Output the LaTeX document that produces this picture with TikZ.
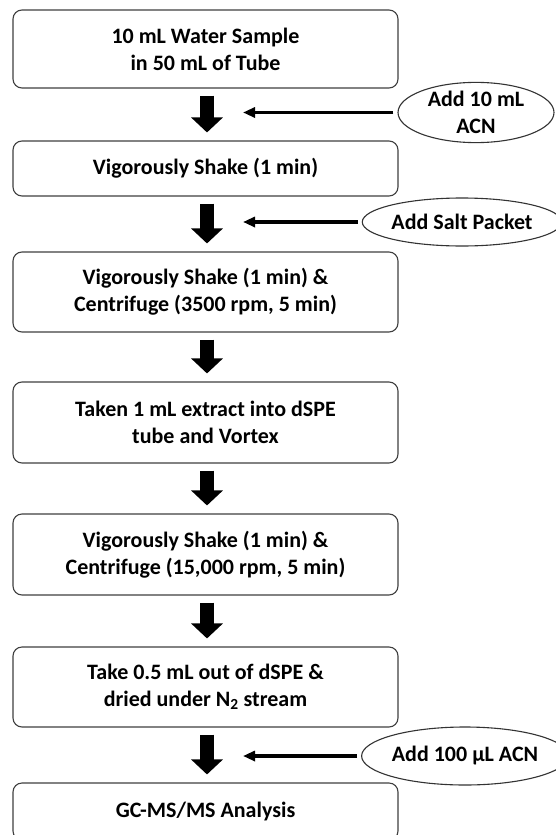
\documentclass[tikz,border=0pt]{standalone}
\usepackage{fontspec}
\setmainfont{Carlito}
\usetikzlibrary{arrows.meta,shapes.geometric}
\begin{document}
\begin{tikzpicture}[x=1pt,y=-1pt,
  txt/.style={font=\fontsize{22}{27}\selectfont\bfseries},
  stepbox/.style={txt, draw=black!75, line width=1.1pt, rounded corners=9pt,
    minimum width=385pt, align=center, inner sep=0pt},
  addell/.style={txt, ellipse, draw=black!80, line width=1.1pt, align=center, inner sep=0pt},
  down/.style={line width=14pt, -{Triangle[width=31pt,length=15pt]}},
  side/.style={line width=3.3pt, -{Triangle[width=10pt,length=12pt]}}]
\useasboundingbox (0,0) rectangle (556,835);
\clip (0,0) rectangle (556,835);
\fill[white] (0,0) rectangle (556,835);

\node[stepbox, minimum height=78pt] (b1) at (205.5,49) {10 mL Water Sample\\in 50 mL of Tube};
\node[stepbox, minimum height=55pt] (b2) at (205.5,168.5) {Vigorously Shake (1 min)};
\node[stepbox, minimum height=80pt] (b3) at (205.5,292) {Vigorously Shake (1 min) \&\\Centrifuge (3500 rpm, 5 min)};
\node[stepbox, minimum height=81pt] (b4) at (205.5,422.5) {Taken 1 mL extract into dSPE\\tube and Vortex};
\node[stepbox, minimum height=81pt] (b5) at (205.5,554.5) {Vigorously Shake (1 min) \&\\Centrifuge (15,000 rpm, 5 min)};
\node[stepbox, minimum height=80pt] (b6) at (205.5,687) {Take 0.5 mL out of dSPE \&\\dried under N\textsubscript{2} stream};
\node[stepbox, minimum height=57pt] (b7) at (205.5,811.5) {GC-MS/MS Analysis};

\node[addell, minimum width=156pt, minimum height=59pt] (e1) at (476,112.5) {Add 10 mL\\ACN};
\node[addell, minimum width=198pt, minimum height=48pt] (e2) at (462,222) {Add Salt Packet};
\node[addell, minimum width=192pt, minimum height=58pt] (e3) at (465,756) {Add 100 µL ACN};

\foreach \a/\b in {b1/b2,b2/b3,b3/b4,b4/b5,b5/b6,b6/b7}
  \draw[down] ([xshift=1.5pt,yshift=-7pt]\a.south) -- ([xshift=1.5pt,yshift=8pt]\b.north);

\coordinate (t1) at (243,112.5);
\coordinate (t2) at (243,222);
\coordinate (t3) at (243,756);
\draw[side] ([xshift=-4pt]e1.west) -- (t1);
\draw[side] ([xshift=-4pt]e2.west) -- (t2);
\draw[side] ([xshift=-4pt]e3.west) -- (t3);
\end{tikzpicture}
\end{document}
